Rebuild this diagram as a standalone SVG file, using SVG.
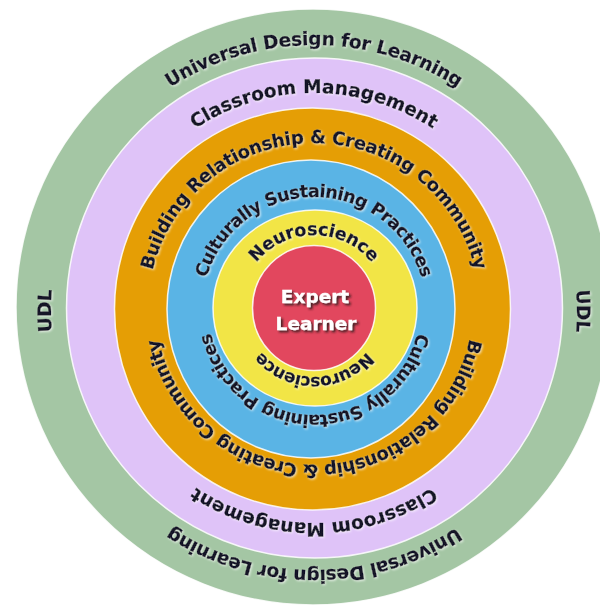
<svg xmlns="http://www.w3.org/2000/svg" width="600" height="608" viewBox="0 0 600 608">
  <style>
    .ring { stroke: #ffffff; stroke-opacity: 0.85; stroke-width: 1.5; }
    .lbl { font-family: "DejaVu Sans", Verdana, sans-serif; font-weight: bold; fill: #121228; stroke: #121228; stroke-width: 0.45; }
    .ctr { font-family: "DejaVu Sans", Verdana, sans-serif; font-weight: bold; font-size: 18.5px; fill: #ffffff; stroke: #ffffff; stroke-width: 0.3; text-anchor: middle; }
  </style>
  <defs>
    <filter id="glow" x="-10%" y="-20%" width="120%" height="140%">
      <feGaussianBlur in="SourceAlpha" stdDeviation="1.1" result="b"/>
      <feOffset in="b" dx="1" dy="1" result="o"/>
      <feFlood flood-color="#ffffff" flood-opacity="0.7"/>
      <feComposite in2="o" operator="in" result="g"/>
      <feMerge><feMergeNode in="g"/><feMergeNode in="SourceGraphic"/></feMerge>
    </filter>
    <filter id="shadow" x="-20%" y="-30%" width="140%" height="160%">
      <feGaussianBlur in="SourceAlpha" stdDeviation="1.2" result="b"/>
      <feOffset in="b" dx="1.8" dy="1.8" result="o"/>
      <feFlood flood-color="#2a1a1a" flood-opacity="0.85"/>
      <feComposite in2="o" operator="in" result="s"/>
      <feMerge><feMergeNode in="s"/><feMergeNode in="SourceGraphic"/></feMerge>
    </filter>
    <!-- centre (314,309); top arcs clockwise over the top, bottom arcs clockwise under the bottom -->
    <path id="p-udl-top" d="M 144.31 106.76 A 264 264 0 0 1 483.69 106.76"/>
    <path id="p-udl-bot" d="M 481.77 508.94 A 261 261 0 0 1 146.23 508.94"/>
    <path id="p-udl-left" d="M 66.86 400.95 A 263 263 0 0 1 66.86 221.05"/>
    <path id="p-udl-right" d="M 561.14 221.05 A 263 263 0 0 1 561.14 400.95"/>
    <path id="p-cm-top" d="M 175.16 143.53 A 216 216 0 0 1 452.84 143.53"/>
    <path id="p-cm-bot" d="M 451.56 472.93 A 214 214 0 0 1 176.44 472.93"/>
    <path id="p-br-top" d="M 149.62 285.90 A 166 166 0 0 1 478.38 285.90"/>
    <path id="p-br-bot" d="M 470.99 331.13 A 159 159 0 0 1 157.01 331.13"/>
    <path id="p-cs-top" d="M 203.70 289.55 A 112 112 0 0 1 424.30 289.55"/>
    <path id="p-cs-bot" d="M 418.39 327.41 A 106 106 0 0 1 209.61 327.41"/>
    <path id="p-ns-top" d="M 252.65 267.62 A 74 74 0 0 1 375.35 267.62"/>
    <path id="p-ns-bot" d="M 370.37 347.02 A 68 68 0 0 1 257.63 347.02"/>
  </defs>

  <rect x="0" y="0" width="600" height="608" fill="#ffffff"/>

  <g id="udl">
    <ellipse class="ring" cx="313" cy="307" rx="297" ry="298" fill="#a4c6a4"/>
    <text class="lbl" font-size="18.5" filter="url(#glow)"><textPath href="#p-udl-top" startOffset="50%" text-anchor="middle" textLength="304" lengthAdjust="spacing">Universal Design for Learning</textPath></text>
    <text class="lbl" font-size="18.5" filter="url(#glow)"><textPath href="#p-udl-bot" startOffset="50%" text-anchor="middle" textLength="302" lengthAdjust="spacing">Universal Design for Learning</textPath></text>
    <text class="lbl" font-size="18.5" filter="url(#glow)"><textPath href="#p-udl-left" startOffset="50%" text-anchor="middle">UDL</textPath></text>
    <text class="lbl" font-size="18.5" filter="url(#glow)"><textPath href="#p-udl-right" startOffset="50%" text-anchor="middle">UDL</textPath></text>
  </g>

  <g id="classroom-management">
    <ellipse class="ring" cx="314.5" cy="308" rx="248" ry="250" fill="#dfc3f8"/>
    <text class="lbl" font-size="18.5" filter="url(#glow)"><textPath href="#p-cm-top" startOffset="50%" text-anchor="middle" textLength="252" lengthAdjust="spacing">Classroom Management</textPath></text>
    <text class="lbl" font-size="18.5" filter="url(#glow)"><textPath href="#p-cm-bot" startOffset="50%" text-anchor="middle" textLength="250" lengthAdjust="spacing">Classroom Management</textPath></text>
  </g>

  <g id="building-relationship">
    <ellipse class="ring" cx="312.5" cy="309" rx="198" ry="201" fill="#e59e05"/>
    <text class="lbl" font-size="18" filter="url(#glow)"><textPath href="#p-br-top" startOffset="50%" text-anchor="middle" textLength="443" lengthAdjust="spacing">Building Relationship &amp; Creating Community</textPath></text>
    <text class="lbl" font-size="18" filter="url(#glow)"><textPath href="#p-br-bot" startOffset="50%" text-anchor="middle" textLength="433" lengthAdjust="spacing">Building Relationship &amp; Creating Community</textPath></text>
  </g>

  <g id="culturally-sustaining">
    <ellipse class="ring" cx="311" cy="309" rx="144" ry="149" fill="#5ab4e5"/>
    <text class="lbl" font-size="17.5" filter="url(#glow)"><textPath href="#p-cs-top" startOffset="50%" text-anchor="middle" textLength="289" lengthAdjust="spacing">Culturally Sustaining Practices</textPath></text>
    <text class="lbl" font-size="17.5" filter="url(#glow)"><textPath href="#p-cs-bot" startOffset="50%" text-anchor="middle" textLength="284" lengthAdjust="spacing">Culturally Sustaining Practices</textPath></text>
  </g>

  <g id="neuroscience">
    <ellipse class="ring" cx="315" cy="308" rx="102" ry="98" fill="#f2e546"/>
    <text class="lbl" font-size="17.5" filter="url(#glow)"><textPath href="#p-ns-top" startOffset="50%" text-anchor="middle" textLength="132" lengthAdjust="spacing">Neuroscience</textPath></text>
    <text class="lbl" font-size="17" filter="url(#glow)"><textPath href="#p-ns-bot" startOffset="50%" text-anchor="middle" textLength="120" lengthAdjust="spacing">Neuroscience</textPath></text>
  </g>

  <g id="expert-learner">
    <ellipse class="ring" cx="314" cy="308" rx="61.5" ry="62.5" fill="#e2475e"/>
    <text class="ctr" x="315" y="303" filter="url(#shadow)">Expert</text>
    <text class="ctr" x="316" y="330" filter="url(#shadow)">Learner</text>
  </g>
</svg>
